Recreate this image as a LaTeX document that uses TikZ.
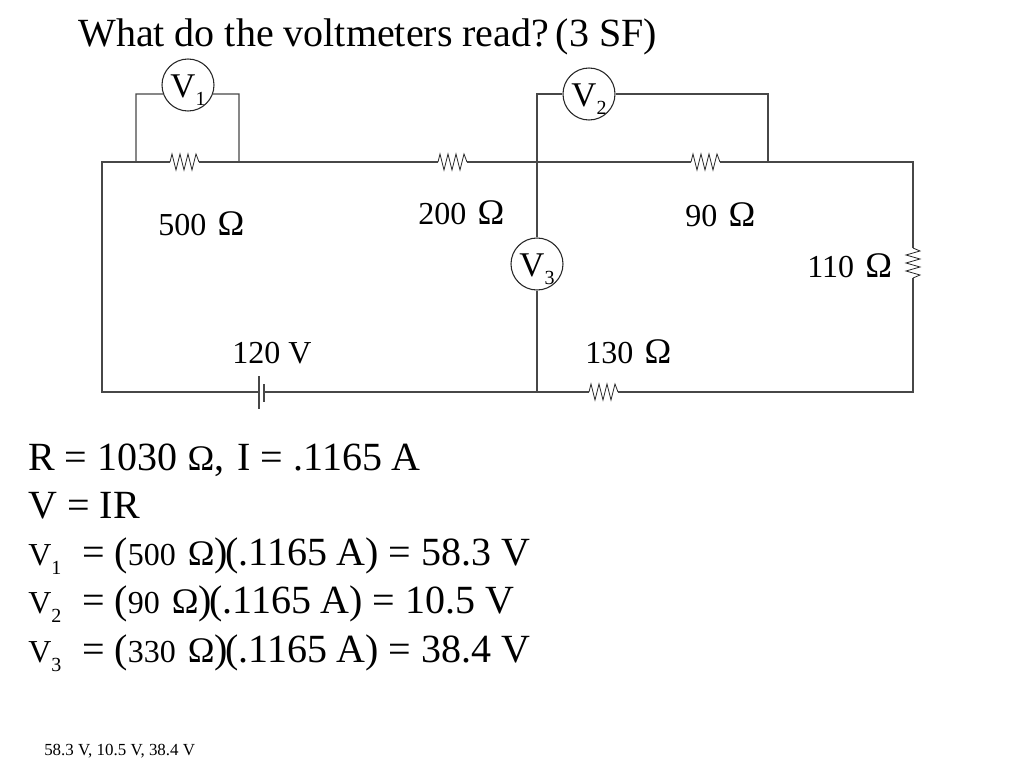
\documentclass[tikz,border=0pt]{standalone}
\usepackage{fontspec}
\setmainfont{Liberation Serif}
\newcommand{\fsz}[1]{\fontsize{#1}{#1}\selectfont}
\newcommand{\Om}{{\fsz{27}Ω}}
\newcommand{\resH}[1]{\draw[zigline] (#1) -- ++(2,-8) -- ++(4,16) -- ++(4,-16) -- ++(4,16) -- ++(4,-16) -- ++(4,16) -- ++(4,-16) -- ++(3,8);}
\newcommand{\resV}[1]{\draw[zigline] (#1) -- ++(7,3) -- ++(-14,4) -- ++(14,4) -- ++(-14,4) -- ++(14,4) -- ++(-14,4) -- ++(14,4) -- ++(-7,3);}
\newcommand{\meter}[1]{V\raisebox{-6.5pt}{\fsz{15}#1}}
\newcommand{\eqline}[4]{\fsz{24}V\raisebox{-7pt}{\fsz{15}#1}\hspace{#2}\fsz{30}= (\fsz{24}#3\hspace{9pt}\Om\fsz{30})\hspace{-2pt}(.1165\hspace{7pt}A) = #4 V}
\tikzset{
  x=0.75pt, y=-0.75pt,
  wire/.style={draw=black!72, line width=0.9pt, line join=miter},
  zigline/.style={draw=black!85, line width=0.6pt, line join=miter},
  meterbox/.style={circle, draw=black!85, line width=0.8pt, fill=white, minimum size=39pt, inner sep=0pt, text height=18pt, text depth=0pt, font=\fsz{26}},
  lbl/.style={anchor=base west, inner sep=0pt, font=\fsz{24}},
  body/.style={anchor=base west, inner sep=0pt, font=\fsz{30}},
}
\begin{document}
\begin{tikzpicture}
\useasboundingbox[fill=white] (0,0) rectangle (1024,768);

\coordinate (tl) at (102,162);
\coordinate (tr) at (913,162);
\coordinate (bl) at (102,392);
\coordinate (br) at (913,392);
\coordinate (ja) at (136,162);
\coordinate (jb) at (239,162);
\coordinate (jc) at (537,162);
\coordinate (jd) at (768,162);
\coordinate (je) at (537,392);
\coordinate (r1a) at (170,162);
\coordinate (r1b) at (199,162);
\coordinate (r2a) at (438,162);
\coordinate (r2b) at (467,162);
\coordinate (r3a) at (691,162);
\coordinate (r3b) at (720,162);
\coordinate (r4a) at (913,248);
\coordinate (r4b) at (913,278);
\coordinate (r5a) at (589,392);
\coordinate (r5b) at (618,392);
\coordinate (b1) at (259,392);
\coordinate (b2) at (264,392);
\coordinate (b1t) at (259,376);
\coordinate (b1d) at (259,409);
\coordinate (b2t) at (264,384);
\coordinate (b2d) at (264,402);
\coordinate (v1l) at (136,94);
\coordinate (v1r) at (239,94);
\coordinate (v2l) at (537,94);
\coordinate (v2r) at (768,94);

\draw[wire] (b1) -- (bl) -- (tl) -- (r1a);
\draw[wire] (r1b) -- (r2a);
\draw[wire] (r2b) -- (r3a);
\draw[wire] (r3b) -- (tr) -- (r4a);
\draw[wire] (r4b) -- (br) -- (r5b);
\draw[wire] (r5a) -- (b2);
\draw[wire] (b1t) -- (b1d);
\draw[wire] (b2t) -- (b2d);
\resH{r1a}
\resH{r2a}
\resH{r3a}
\resH{r5a}
\resV{r4a}

\node[meterbox] (v1) at (188,85) {\meter{1}};
\node[meterbox] (v2) at (589,94) {\meter{2}};
\node[meterbox] (v3) at (537,264) {\meter{3}};

\draw[wire] (ja) -- (v1l) -- (v1.200);
\draw[wire] (jb) -- (v1r) -- (v1.340);
\draw[wire] (jc) -- (v2l) -- (v2);
\draw[wire] (jd) -- (v2r) -- (v2);
\draw[wire] (jc) -- (v3);
\draw[wire] (je) -- (v3);

\node[body] (title) at (78,46) {What do the voltmeters read?\hspace{5pt}(3 SF)};
\node[lbl] (l500) at (158,235) {500\hspace{8.5pt}\Om};
\node[lbl] (l200) at (418,224) {200\hspace{8.5pt}\Om};
\node[lbl] (l90) at (685,226) {90\hspace{8.5pt}\Om};
\node[lbl] (l110) at (807,277) {110\hspace{8.5pt}\Om};
\node[lbl] (l120) at (232,363) {120 V};
\node[lbl] (l130) at (585,363) {130\hspace{8.5pt}\Om};

\node[body] (e1) at (28,470) {R = 1030 \Om,\hspace{10pt}I = .1165 A};
\node[body] (e2) at (28,518) {V = IR};
\node[body] (e3) at (28,565) {\eqline{1}{15.5pt}{500}{58.3}};
\node[body] (e4) at (28,613) {\eqline{2}{15.5pt}{90}{10.5}};
\node[body] (e5) at (28,662) {\eqline{3}{15.5pt}{330}{38.4}};
\node[anchor=base west, inner sep=0pt, font=\fsz{12.7}] (foot) at (44,755) {58.3 V, 10.5 V, 38.4 V};
\end{tikzpicture}
\end{document}
